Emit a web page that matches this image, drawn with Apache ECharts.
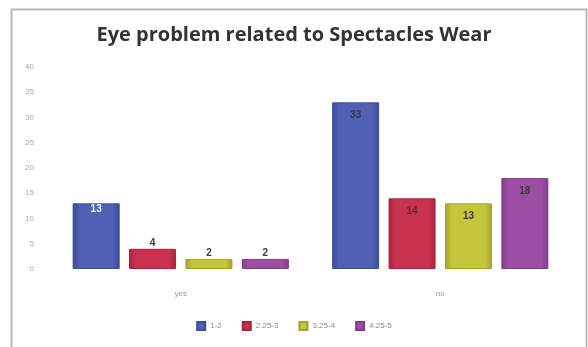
<!DOCTYPE html>
<html>
<head>
<meta charset="utf-8">
<script src="https://cdn.jsdelivr.net/npm/echarts@6/dist/echarts.min.js"></script>
<style>
  html, body { margin: 0; padding: 0; background: #fff; }
  #chart { width: 588px; height: 347px; }
</style>
</head>
<body>
<div id="chart"></div>
<script>
// Spectacle-wear answers by dioptre range
const categories = ['yes', 'no'];
const seriesNames = ['1-2', '2.25-3', '3.25-4', '4.25-5'];
const range1to2 = [13, 33];
const range2to3 = [4, 14];
const range3to4 = [2, 13];
const range4to5 = [2, 18];
const yTicks = [0, 5, 10, 15, 20, 25, 30, 35, 40];

const colors = ['#5060b4', '#c8324e', '#c6c63c', '#9c4ea4'];
const edge = ['#3c4a96', '#a52540', '#a3a32c', '#803c88'];
const values = [range1to2, range2to3, range3to4, range4to5];

const chart = echarts.init(document.getElementById('chart'));

const series = seriesNames.map((name, i) => ({
  name: name,
  type: 'bar',
  data: values[i].map((v, j) => {
    // short bars carry their label just above; the first bar's label sits on its white cap
    if (v < 6) return { value: v, label: { position: 'top', distance: 1 } };
    if (i === 0 && j === 0) return { value: v, label: { color: '#f4f4fa', distance: 1 } };
    return v;
  }),
  barWidth: 47,
  barGap: '20%',
  itemStyle: {
    color: new echarts.graphic.LinearGradient(0, 0, 1, 0, [
      { offset: 0, color: edge[i] },
      { offset: 0.15, color: colors[i] },
      { offset: 0.85, color: colors[i] },
      { offset: 1, color: edge[i] }
    ]),
    borderColor: edge[i],
    borderWidth: 1
  },
  label: {
    show: true,
    position: 'insideTop',
    distance: 8,
    fontSize: 10,
    fontWeight: 'bold',
    fontFamily: 'Liberation Sans',
    color: '#3a3a3a'
  }
}));

chart.setOption({
  animation: false,
  backgroundColor: '#fff',
  color: colors,
  title: {
    text: 'Eye problem related to Spectacles Wear',
    left: 'center',
    top: 20,
    textStyle: {
      fontFamily: 'Open Sans',
      fontWeight: 'bold',
      fontSize: 20,
      color: '#333'
    }
  },
  legend: {
    bottom: 11,
    left: 'center',
    itemWidth: 8,
    itemHeight: 8,
    itemGap: 20,
    icon: 'rect',
    textStyle: { fontSize: 8, color: '#888', fontFamily: 'Liberation Sans' },
    data: seriesNames
  },
  grid: { left: 51, right: 18, top: 67, bottom: 78 },
  xAxis: {
    type: 'category',
    data: categories,
    axisLine: { show: false },
    axisTick: { show: false },
    axisLabel: { fontSize: 8, color: '#999', margin: 21 }
  },
  yAxis: {
    type: 'value',
    min: yTicks[0],
    max: yTicks[yTicks.length - 1],
    interval: 5,
    splitLine: { show: false },
    axisLine: { show: false },
    axisTick: { show: false },
    axisLabel: { fontSize: 8, color: '#aaa', margin: 17 }
  },
  graphic: [{
    type: 'rect',
    shape: { x: 11.5, y: 9.5, width: 575, height: 345 },
    style: { fill: 'none', stroke: '#b8b8b8', lineWidth: 2 },
    silent: true
  }],
  series: series
});
</script>
</body>
</html>
